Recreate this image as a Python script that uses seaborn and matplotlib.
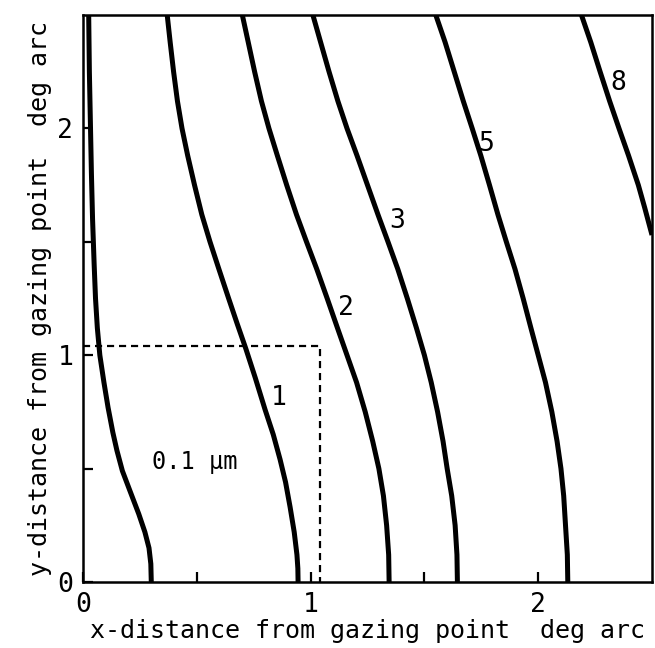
import numpy as np
import pandas as pd
import matplotlib
matplotlib.use("Agg")
import matplotlib.pyplot as plt
import seaborn as sns

# Iso-blur contours: x position (deg arc) of each contour at a set of y positions (deg arc)
y_01 = [0.00, 0.08, 0.15, 0.22, 0.30, 0.40, 0.49, 0.58, 0.66, 0.77, 0.88, 1.00,
        1.12, 1.25, 1.40, 1.60, 1.80, 2.00, 2.25, 2.50]
x_01 = [0.300, 0.298, 0.290, 0.272, 0.245, 0.207, 0.173, 0.149, 0.131, 0.110, 0.092, 0.074,
        0.063, 0.055, 0.049, 0.042, 0.037, 0.033, 0.028, 0.025]

y_1 = [0.00, 0.06, 0.12, 0.22, 0.33, 0.44, 0.54, 0.65, 0.76, 0.90, 1.03, 1.14,
       1.25, 1.38, 1.50, 1.62, 1.75, 1.88, 2.00, 2.12, 2.25, 2.38, 2.50]
x_1 = [0.945, 0.944, 0.940, 0.928, 0.910, 0.890, 0.866, 0.836, 0.800, 0.757, 0.715, 0.677,
       0.640, 0.597, 0.558, 0.522, 0.490, 0.460, 0.435, 0.415, 0.398, 0.383, 0.370]

y_2 = [0.00, 0.12, 0.25, 0.38, 0.50, 0.62, 0.75, 0.88, 1.00, 1.12, 1.25,
       1.38, 1.50, 1.62, 1.75, 1.88, 2.00, 2.12, 2.25, 2.38, 2.50]
x_2 = [1.345, 1.343, 1.334, 1.320, 1.300, 1.273, 1.240, 1.202, 1.160, 1.118, 1.073,
       1.027, 0.982, 0.938, 0.895, 0.854, 0.817, 0.784, 0.754, 0.726, 0.700]

y_3 = [0.00, 0.12, 0.25, 0.38, 0.50, 0.62, 0.75, 0.88, 1.00, 1.12, 1.25,
       1.38, 1.50, 1.62, 1.75, 1.88, 2.00, 2.12, 2.25, 2.38, 2.50]
x_3 = [1.645, 1.643, 1.635, 1.620, 1.600, 1.582, 1.558, 1.530, 1.500, 1.465, 1.425,
       1.383, 1.340, 1.296, 1.250, 1.204, 1.160, 1.120, 1.081, 1.044, 1.010]

y_5 = [0.00, 0.12, 0.25, 0.38, 0.50, 0.62, 0.75, 0.88, 1.00, 1.12, 1.25,
       1.38, 1.50, 1.62, 1.75, 1.88, 2.00, 2.12, 2.25, 2.38, 2.50]
x_5 = [2.130, 2.128, 2.120, 2.112, 2.100, 2.083, 2.060, 2.032, 2.000, 1.968, 1.934,
       1.898, 1.860, 1.823, 1.786, 1.748, 1.710, 1.671, 1.631, 1.591, 1.550]

y_8 = [1.53, 1.65, 1.75, 1.88, 2.00, 2.12, 2.25, 2.38, 2.50]
x_8 = [2.500, 2.468, 2.440, 2.397, 2.355, 2.314, 2.272, 2.231, 2.190]

levels = ["0.1", "1", "2", "3", "5", "8"]
curves_x = [x_01, x_1, x_2, x_3, x_5, x_8]
curves_y = [y_01, y_1, y_2, y_3, y_5, y_8]

# Contour labels and where they sit
label_text = ["0.1 µm", "1", "2", "3", "5", "8"]
label_x = [0.49, 0.86, 1.155, 1.38, 1.77, 2.35]
label_y = [0.53, 0.81, 1.21, 1.59, 1.93, 2.20]

# Boundary of the central region (dashed)
region_edge = 1.04

tick_pos = [0, 0.5, 1, 1.5, 2]
tick_labels = ["0", "", "1", "", "2"]

frames = []
for lev, xs, ys in zip(levels, curves_x, curves_y):
    frames.append(pd.DataFrame({"x": xs, "y": ys, "level": lev,
                                "order": np.arange(len(xs))}))
df = pd.concat(frames, ignore_index=True)

sns.set_style("ticks")
plt.rcParams["font.family"] = ["DejaVu Sans Mono", "DejaVu Sans"]

fig = plt.figure(figsize=(6.55, 6.48), dpi=100)
ax = fig.add_axes([83 / 655, 66 / 648, 569 / 655, 567 / 648])

sns.lineplot(data=df, x="x", y="y", units="level", estimator=None, sort=False,
             color="black", linewidth=3.6, solid_capstyle="butt",
             solid_joinstyle="round", ax=ax)

ax.plot([0, region_edge, region_edge], [region_edge, region_edge, 0],
        color="black", linewidth=1.6, linestyle=(0, (3.2, 2.2)))

for t, lx, ly in zip(label_text, label_x, label_y):
    ax.text(lx, ly, t, ha="center", va="center",
            fontsize=17 if len(t) > 1 else 19, color="black")

ax.set_xlim(0, 2.5)
ax.set_ylim(0, 2.5)
ax.set_xticks(tick_pos)
ax.set_xticklabels(tick_labels)
ax.set_yticks(tick_pos)
ax.set_yticklabels(tick_labels)
ax.tick_params(direction="in", length=7, width=1.6, labelsize=19, pad=7,
               colors="black")
for s in ax.spines.values():
    s.set_linewidth(1.8)
    s.set_color("black")

ax.set_xlabel("x-distance from gazing point  deg arc", fontsize=18,
              labelpad=1, color="black")
ax.set_ylabel("y-distance from gazing point  deg arc", fontsize=18,
              labelpad=4, color="black")

fig.savefig("out.png", dpi=100, facecolor="white")
